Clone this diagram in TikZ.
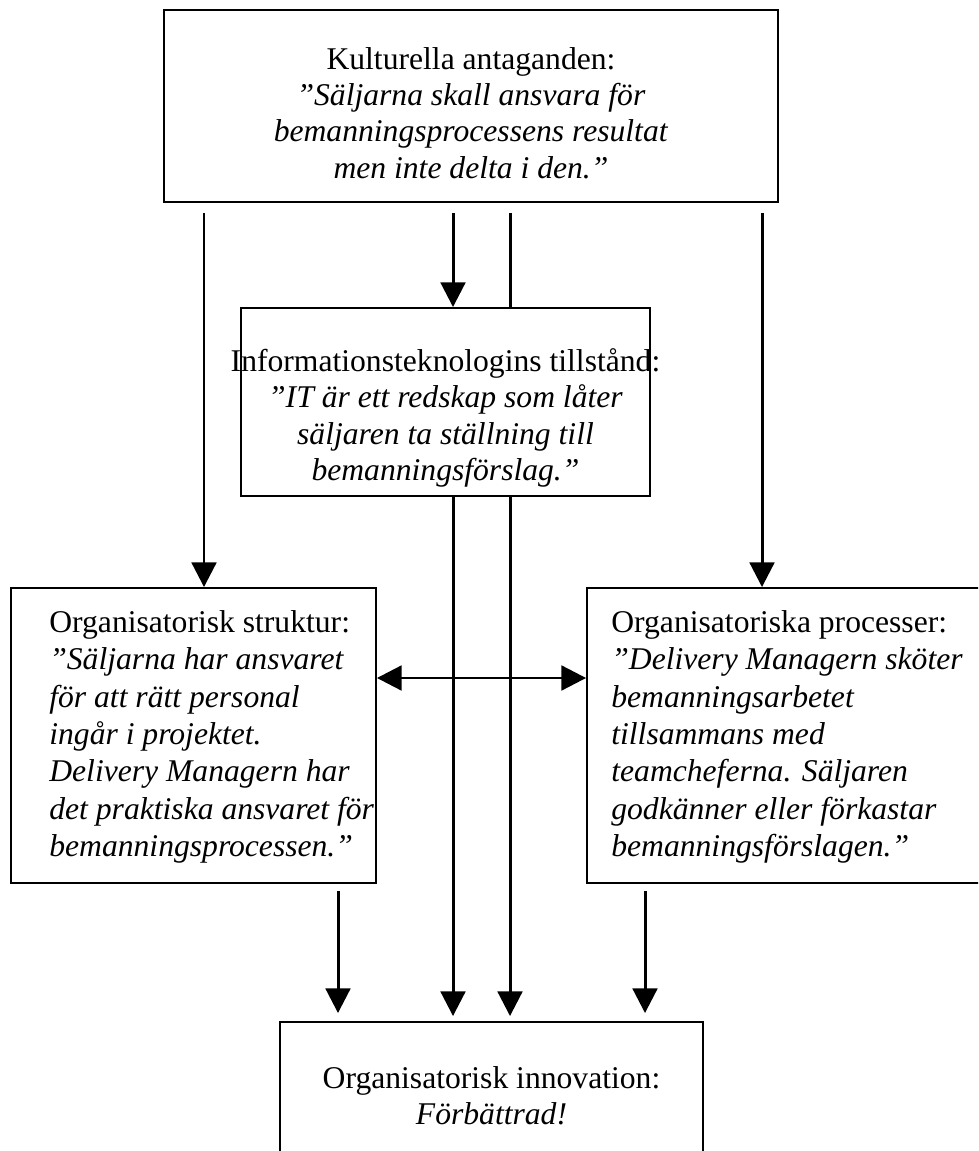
\documentclass[tikz,border=0pt]{standalone}
\usepackage{fontspec}
\setmainfont{Liberation Serif}
\usetikzlibrary{arrows.meta, positioning, calc}

\begin{document}
\begin{tikzpicture}[
  x=0.02cm, y=-0.02cm,
  box/.style={draw, line width=1.1pt, inner sep=0pt},
  ctxt/.style={inner sep=0pt, align=center,
    font=\fontsize{18}{20.7}\selectfont},
  txt/.style={inner sep=0pt, align=left, anchor=north west,
    font=\fontsize{18}{21.3}\selectfont},
  arr/.style={line width=1.7pt, -{Triangle[length=14pt,width=14pt]}},
  pipe/.style={line width=1.7pt}
]
\useasboundingbox (0,0) rectangle (978,1151);
\clip (0,0) rectangle (978,1151);

% Boxes
\node[box, minimum width=12.28cm, minimum height=3.84cm] (kultur) at (471,106) {};
\node[box, minimum width=8.18cm, minimum height=3.76cm] (it) at (445.5,402) {};
\node[box, minimum width=7.3cm, minimum height=5.9cm] (struktur) at (193.5,735.5) {};
\node[box, minimum width=8.06cm, minimum height=5.9cm] (process) at (788.5,735.5) {};
\node[box, minimum width=8.46cm, minimum height=2.96cm] (innov) at (491.5,1096) {};

% Texts
\node[ctxt, yshift=-0.14cm] (kulturtxt) at (kultur.center)
  {Kulturella antaganden:\\ \textit{”Säljarna skall ansvara för}\\
   \textit{bemanningsprocessens resultat}\\ \textit{men inte delta i den.”}};
\node[ctxt, yshift=-0.32cm] (ittxt) at (it.center)
  {Informationsteknologins tillstånd:\\ \textit{”IT är ett redskap som låter}\\
   \textit{säljaren ta ställning till}\\ \textit{bemanningsförslag.”}};
\node[txt] (strukturtxt) at (49,610)
  {Organisatorisk struktur:\\ \textit{”Säljarna har ansvaret}\\
   \textit{för att rätt personal}\\ \textit{ingår i projektet.}\\
   \textit{Delivery Managern har}\\ \textit{det praktiska ansvaret för}\\
   \textit{bemanningsprocessen.”}};
\node[txt] (processtxt) at (611,610)
  {Organisatoriska processer:\\ \textit{”Delivery Managern sköter}\\
   \textit{bemanningsarbetet}\\ \textit{tillsammans med}\\
   \textit{teamcheferna. Säljaren}\\ \textit{godkänner eller förkastar}\\
   \textit{bemanningsförslagen.”}};
\node[ctxt] (innovtxt) at (innov.center)
  {Organisatorisk innovation:\\ \textit{Förbättrad!}};

% From the top box
\draw[arr, shorten <=0.2cm] (kultur.south -| 204,0) -- (struktur.north -| 204,0);
\draw[arr, shorten <=0.2cm] (kultur.south -| 453,0) -- (it.north -| 453,0);
\draw[pipe, shorten <=0.2cm] (kultur.south -| 510,0) -- (it.north -| 510,0);
\draw[arr, shorten <=0.2cm] (kultur.south -| 762,0) -- (process.north -| 762,0);

% Between structure and processes
\draw[line width=1.7pt, {Triangle[length=14pt,width=14pt]}-{Triangle[length=14pt,width=14pt]}]
  (struktur.east |- 0,678) -- (process.west |- 0,678);

% Into the bottom box
\draw[arr, shorten <=0.14cm, shorten >=0.16cm] (struktur.south -| 338,0) -- (innov.north -| 338,0);
\draw[arr, shorten >=0.1cm] (it.south -| 453,0) -- (innov.north -| 453,0);
\draw[arr, shorten >=0.1cm] (it.south -| 510,0) -- (innov.north -| 510,0);
\draw[arr, shorten <=0.14cm, shorten >=0.16cm] (process.south -| 645,0) -- (innov.north -| 645,0);
\end{tikzpicture}
\end{document}
